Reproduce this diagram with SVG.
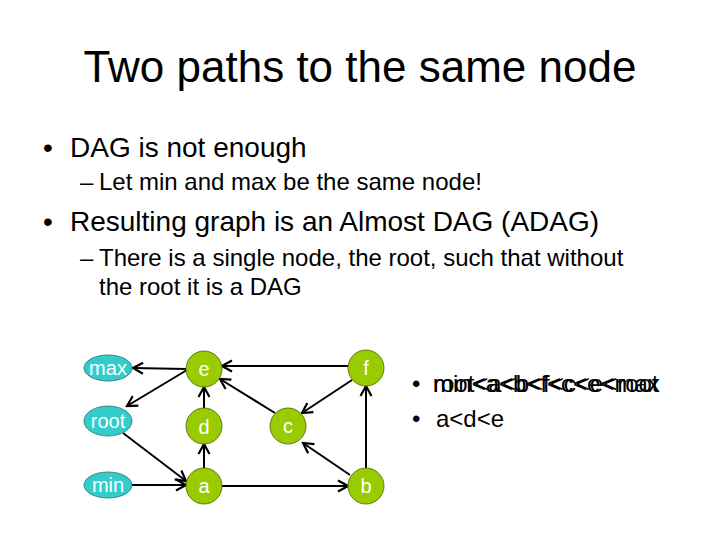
<svg xmlns="http://www.w3.org/2000/svg" width="720" height="540" viewBox="0 0 720 540">
<style>
text{font-family:"Liberation Sans",Arial,sans-serif;fill:#000}
.title{font-size:44px}
.b1{font-size:28px}
.b2{font-size:24px}
.lbl{font-size:20px;fill:#fff;text-anchor:middle}
.cy{fill:#33CCCC;stroke:#2a6f6f;stroke-width:0.8}
.gr{fill:#99CC00;stroke:#4a6400;stroke-width:0.8}
.edge{stroke:#000;stroke-width:2;fill:none;marker-end:url(#arr)}
</style>
<defs>
<marker id="arr" markerUnits="userSpaceOnUse" viewBox="-12 -7 14 14" markerWidth="14" markerHeight="14" refX="0" refY="0" orient="auto">
<path d="M-10,-5.5 L0,0 L-10,5.5" fill="none" stroke="#000" stroke-width="2.2"/>
</marker>
</defs>
<rect width="720" height="540" fill="#fff"/>
<text class="title" x="360" y="82" text-anchor="middle">Two paths to the same node</text>
<text class="b1" x="43" y="157">•</text>
<text class="b1" x="70" y="157">DAG is not enough</text>
<text class="b2" x="80" y="190">–</text>
<text class="b2" x="99" y="190">Let min and max be the same node!</text>
<text class="b1" x="43" y="231">•</text>
<text class="b1" x="70" y="231">Resulting graph is an Almost DAG (ADAG)</text>
<text class="b2" x="80" y="266">–</text>
<text class="b2" x="99" y="266">There is a single node, the root, such that without</text>
<text class="b2" x="99" y="295">the root it is a DAG</text>
<text class="b2" x="412" y="392">•</text>
<text class="b2" x="433" y="392">min&lt;a&lt;b&lt;f&lt;c&lt;e&lt;max</text>
<text class="b2" x="433" y="392">root&lt;a&lt;b&lt;f&lt;c&lt;e&lt;root</text>
<text class="b2" x="412" y="427">•</text>
<text class="b2" x="436" y="427">a&lt;d&lt;e</text>
<g id="connectors">
<line class="edge" x1="186" y1="369" x2="133" y2="368"/>
<line class="edge" x1="187" y1="370" x2="127" y2="406"/>
<line class="edge" x1="123" y1="433" x2="186" y2="481"/>
<line class="edge" x1="132" y1="485" x2="186" y2="485"/>
<line class="edge" x1="204" y1="468" x2="204" y2="444"/>
<line class="edge" x1="204" y1="408" x2="204" y2="387"/>
<line class="edge" x1="348" y1="366" x2="222" y2="366"/>
<line class="edge" x1="275" y1="413" x2="220" y2="379"/>
<line class="edge" x1="352" y1="380" x2="302" y2="413"/>
<line class="edge" x1="350" y1="475" x2="303" y2="443"/>
<line class="edge" x1="366" y1="468" x2="366" y2="386"/>
<line class="edge" x1="222" y1="486" x2="348" y2="486"/>
</g>
<g id="max"><ellipse class="cy" cx="108" cy="368" rx="24" ry="13"/><text class="lbl" x="108" y="375">max</text></g>
<g id="root"><ellipse class="cy" cx="108" cy="421" rx="24" ry="15"/><text class="lbl" x="108" y="428">root</text></g>
<g id="min"><ellipse class="cy" cx="108" cy="485" rx="24" ry="13"/><text class="lbl" x="108" y="492">min</text></g>
<g id="e"><circle class="gr" cx="204" cy="369" r="18"/><text class="lbl" x="204" y="376">e</text></g>
<g id="d"><circle class="gr" cx="204" cy="426" r="18"/><text class="lbl" x="204" y="434">d</text></g>
<g id="a"><circle class="gr" cx="204" cy="486" r="18"/><text class="lbl" x="204" y="493">a</text></g>
<g id="f"><circle class="gr" cx="366" cy="368" r="18"/><text class="lbl" x="366" y="375">f</text></g>
<g id="c"><circle class="gr" cx="288" cy="426" r="18"/><text class="lbl" x="288" y="433">c</text></g>
<g id="b"><circle class="gr" cx="366" cy="486" r="18"/><text class="lbl" x="366" y="493">b</text></g>
</svg>
